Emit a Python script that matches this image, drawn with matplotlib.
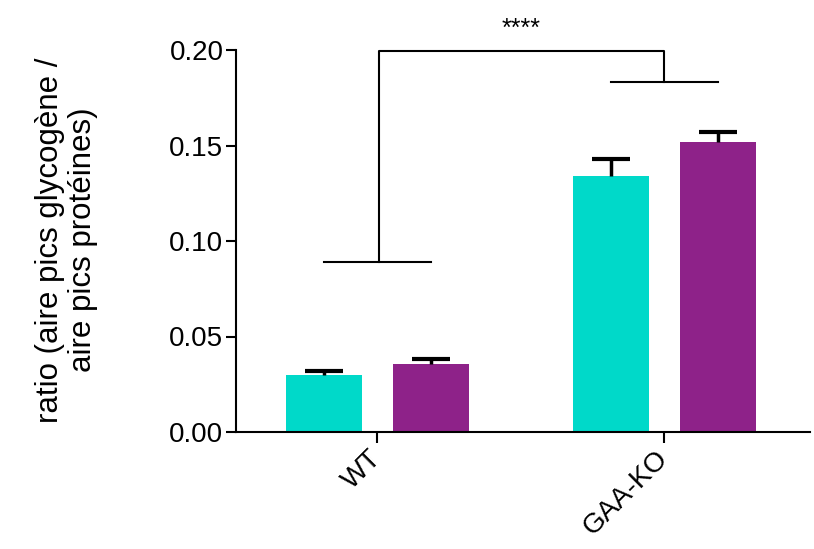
import matplotlib
matplotlib.use("Agg")
import matplotlib.pyplot as plt
import numpy as np

plt.rcParams['font.family'] = ['Liberation Sans', 'DejaVu Sans']

groups = ["WT", "GAA-KO"]
series1_mean = [0.0301, 0.1342]
series1_err = [0.0016, 0.0087]
series2_mean = [0.0354, 0.1520]
series2_err = [0.0026, 0.0053]
colors = ["#00D9C9", "#8E2289"]
yticks = [0.00, 0.05, 0.10, 0.15, 0.20]
ylabel_lines = ["ratio (aire pics glycogène /", "aire pics protéines)"]
sig_text = "****"
wt_bracket_y = 0.089
ko_bracket_y = 0.1834
top_bracket_y = 0.1995

fig = plt.figure(figsize=(8.14, 5.49), dpi=100)
ax = fig.add_axes([236/814, 1-432/549, (810-236)/814, (432-50)/549])

x = np.arange(len(groups))
off = 0.186
w = 0.264
capw = 0.066
for xs, m, e, c in [(x - off, series1_mean, series1_err, colors[0]),
                    (x + off, series2_mean, series2_err, colors[1])]:
    m = np.asarray(m); e = np.asarray(e)
    ax.bar(xs, m, width=w, color=c, zorder=2)
    ax.vlines(xs, m, m + e, color='black', lw=2.5, zorder=3)
    ax.hlines(m + e, xs - capw, xs + capw, color='black', lw=3, zorder=3)

ax.set_xlim(-0.493, 1.507)
ax.set_ylim(0, 0.2)
ax.set_yticks(yticks)
ax.set_yticklabels([f"{v:.2f}" for v in yticks], fontsize=20)
ax.set_xticks(x)
ax.set_xticklabels(groups, fontsize=20, rotation=45, ha='right', va='center',
                   rotation_mode='anchor')
for s in ['top', 'right']:
    ax.spines[s].set_visible(False)
for s in ['left', 'bottom']:
    ax.spines[s].set_linewidth(1.5)
ax.tick_params(axis='y', width=1.5, length=7, pad=2, direction='out')
ax.tick_params(axis='x', width=1.5, length=8, pad=8, direction='out')

for xpix, line in zip([50, 83], ylabel_lines):
    fig.text(xpix/814, 1-240/549, line, rotation=90, ha='center', va='center',
             fontsize=22.5)

# significance brackets
lw = 1.5
ax.plot([-off, off], [wt_bracket_y, wt_bracket_y], color='black', lw=lw, clip_on=False)
ax.plot([1 - off, 1 + off], [ko_bracket_y, ko_bracket_y], color='black', lw=lw, clip_on=False)
ax.plot([0.006, 0.006, 0.998, 0.998], [wt_bracket_y, top_bracket_y, top_bracket_y, ko_bracket_y],
        color='black', lw=lw, clip_on=False)
ax.text(0.5, 0.2075, sig_text, ha='center', va='baseline', fontsize=18, clip_on=False)

fig.savefig("out.png", dpi=100)
